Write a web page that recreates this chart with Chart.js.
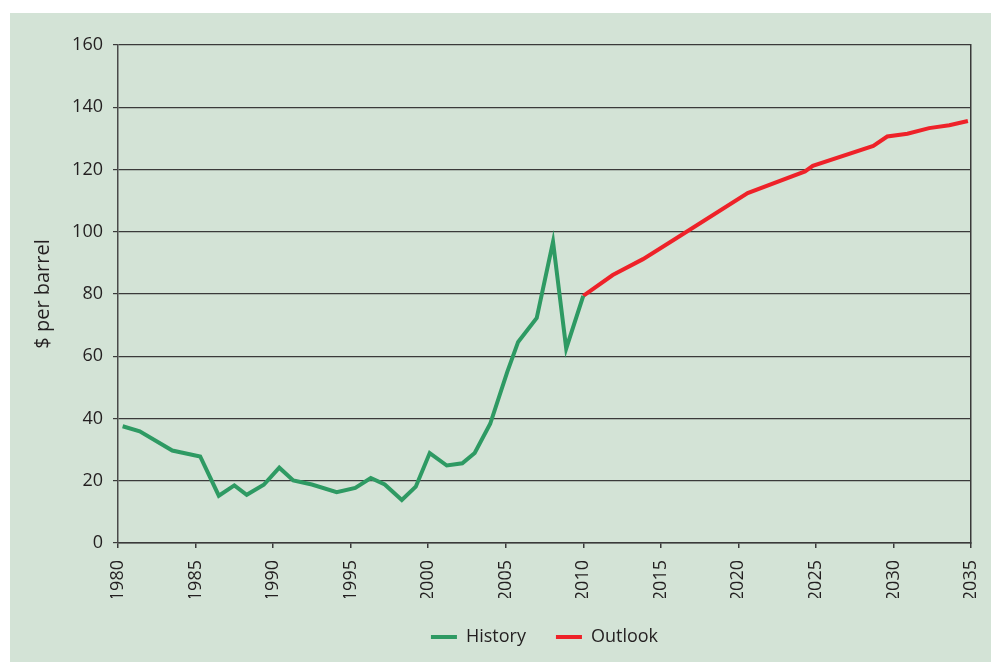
<!DOCTYPE html>
<html>
<head>
<meta charset="utf-8">
<script src="https://cdn.jsdelivr.net/npm/chart.js@4/dist/chart.umd.min.js"></script>
<style>
  html, body { margin: 0; padding: 0; background: #ffffff; }
  #panel { position: absolute; left: 10px; top: 13px; width: 981px; height: 649px; background: #d3e3d6; }
  #wrap { position: absolute; left: 0; top: 0; width: 981px; height: 649px; }
</style>
</head>
<body>
<div id="panel"><div id="wrap"><canvas id="c"></canvas></div></div>
<script>
// Data
const historyYears  = [1980.3, 1981.4, 1983.5, 1985.3, 1986.5, 1987.5, 1988.3, 1989.4, 1990.4, 1991.3, 1992.5, 1994.1, 1995.3, 1996.3, 1997.2, 1998.3, 1999.2, 2000.1, 2001.2, 2002.2, 2003.0, 2004.0, 2005.1, 2005.8, 2007.0, 2008.05, 2008.9, 2010.0];
const historyValues = [37.5, 35.9, 29.7, 27.8, 15.2, 18.5, 15.5, 18.7, 24.2, 20.1, 18.8, 16.3, 17.7, 20.9, 18.8, 13.8, 18.1, 28.9, 24.9, 25.6, 28.9, 38.3, 55.0, 64.6, 72.3, 96.8, 62.5, 79.4];
const outlookYears  = [2010.0, 2011.9, 2013.85, 2016.0, 2020.6, 2024.3, 2024.8, 2028.7, 2029.6, 2030.9, 2032.3, 2033.6, 2034.8];
const outlookValues = [79.4, 86.1, 91.2, 97.9, 112.4, 119.4, 121.2, 127.6, 130.6, 131.5, 133.3, 134.2, 135.6];
const seriesNames = ["History", "Outlook"];
const xMin = 1980, xMax = 2035, xStep = 5;
const yMin = 0, yMax = 160, yStep = 20;
const yTitle = "$ per barrel";

const toPoints = (xs, ys) => xs.map((x, i) => ({ x: x, y: ys[i] }));
const FONT = "'Open Sans', sans-serif";
const TXT = "#231f20";
const GRID = "#3a3a3a";

new Chart(document.getElementById('c'), {
  type: 'line',
  data: {
    datasets: [
      { label: seriesNames[0], data: toPoints(historyYears, historyValues), borderColor: '#2e9a63', backgroundColor: '#2e9a63', borderWidth: 4, pointRadius: 0, tension: 0, borderJoinStyle: 'miter' },
      { label: seriesNames[1], data: toPoints(outlookYears, outlookValues), borderColor: '#ee2229', backgroundColor: '#ee2229', borderWidth: 4, pointRadius: 0, tension: 0, borderJoinStyle: 'miter' }
    ]
  },
  options: {
    responsive: true,
    maintainAspectRatio: false,
    animation: false,
    layout: { padding: { left: 0, right: 20, top: 32, bottom: 6 } },
    plugins: {
      tooltip: { enabled: false },
      legend: {
        position: 'bottom',
        fullSize: false,
        labels: {
          font: { family: FONT, size: 18 },
          color: TXT,
          boxWidth: 26,
          boxHeight: 4,
          padding: 30,
          generateLabels: (chart) => {
            const items = Chart.defaults.plugins.legend.labels.generateLabels(chart);
            items.forEach(it => { it.lineWidth = 0; it.strokeStyle = 'rgba(0,0,0,0)'; });
            return items;
          }
        }
      }
    },
    scales: {
      x: {
        type: 'linear',
        min: xMin, max: xMax,
        afterFit: (s) => { s.height = 55; s.paddingLeft = 0; s.paddingRight = 0; },
        afterBuildTicks: (s) => {
          const t = [];
          for (let v = xMin; v <= xMax; v += xStep) t.push({ value: v });
          s.ticks = t;
        },
        ticks: {
          stepSize: xStep,
          maxRotation: 90, minRotation: 90,
          padding: 12,
          font: { family: FONT, size: 18 },
          color: TXT,
          callback: (v) => String(v)
        },
        grid: { drawOnChartArea: false, drawTicks: true, tickLength: 5, color: GRID, lineWidth: 1.5 },
        border: { display: true, color: GRID, width: 1.5 }
      },
      y: {
        min: yMin, max: yMax,
        afterFit: (s) => { s.width = 108; },
        ticks: {
          stepSize: yStep,
          padding: 10,
          font: { family: FONT, size: 18 },
          color: TXT
        },
        title: { display: true, text: yTitle, font: { family: FONT, size: 20 }, color: TXT, padding: { top: 21, bottom: 0 } },
        grid: { color: GRID, lineWidth: 1.2, tickLength: 5, drawTicks: true },
        border: { display: true, color: '#4a4a4a', width: 1.5 }
      },
      y2: {
        position: 'right',
        min: yMin, max: yMax,
        afterFit: (s) => { s.width = 0; },
        ticks: { display: false },
        grid: { drawOnChartArea: false, drawTicks: false },
        border: { display: true, color: GRID, width: 1.5 }
      }
    }
  }
});
</script>
</body>
</html>
